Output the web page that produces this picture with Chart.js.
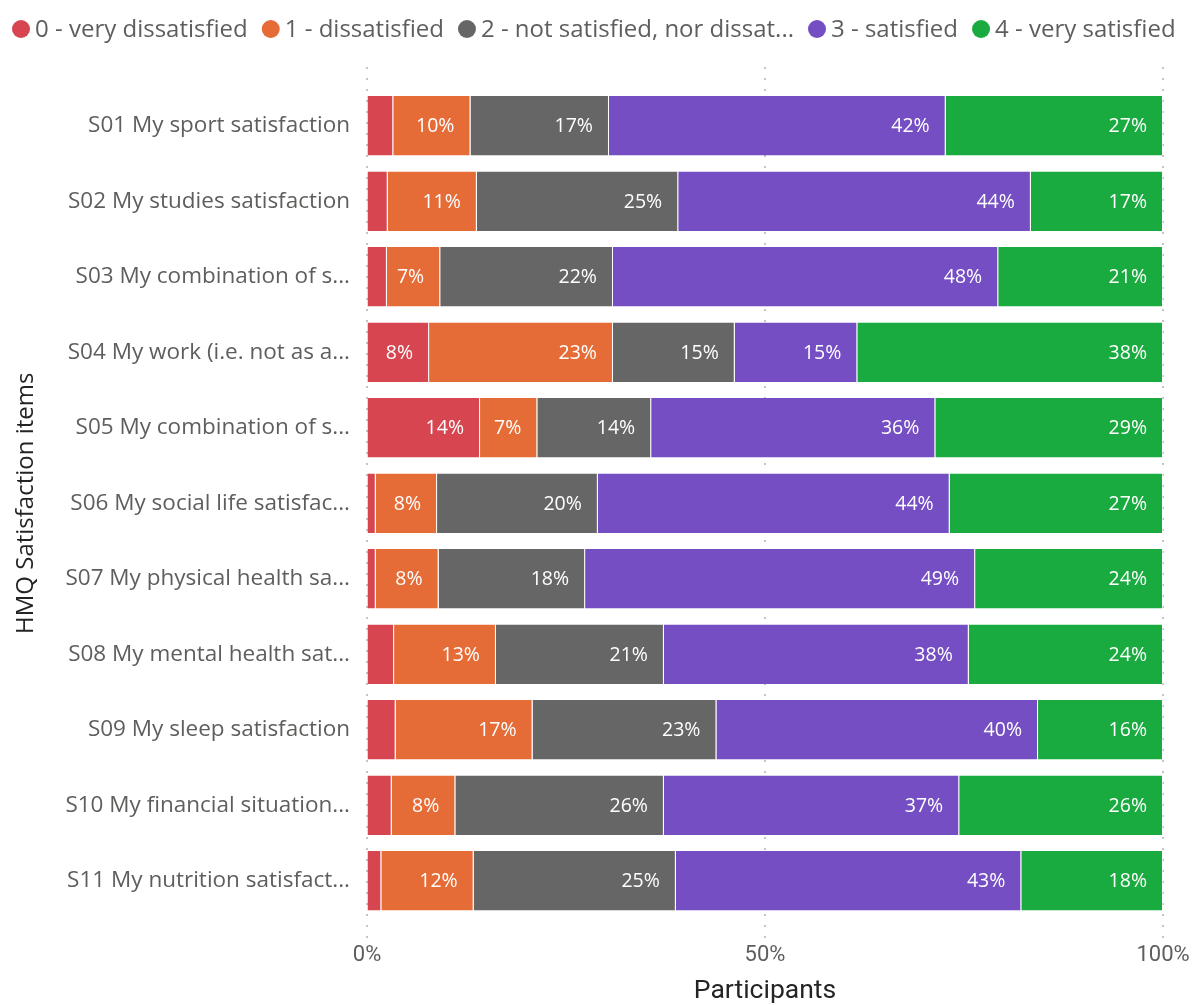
<!DOCTYPE html>
<html>
<head>
<meta charset="utf-8">
<script src="https://cdn.jsdelivr.net/npm/chart.js@4.4.1/dist/chart.umd.min.js"></script>
<style>
  html, body { margin: 0; padding: 0; background: #fff; }
  #wrap { width: 1202px; height: 1005px; }
</style>
</head>
<body>
<div id="wrap"><canvas id="myChart" width="1202" height="1005"></canvas></div>
<script>
var items = [
    "S01 My sport satisfaction",
    "S02 My studies satisfaction",
    "S03 My combination of s...",
    "S04 My work (i.e. not as a...",
    "S05 My combination of s...",
    "S06 My social life satisfac...",
    "S07 My physical health sa...",
    "S08 My mental health sat...",
    "S09 My sleep satisfaction",
    "S10 My financial situation...",
    "S11 My nutrition satisfact..."
];

var answers = [
    "0 - very dissatisfied",
    "1 - dissatisfied",
    "2 - not satisfied, nor dissat...",
    "3 - satisfied",
    "4 - very satisfied"
];

// share of participants per answer, % of each item
var veryDissatisfied = [3.3, 2.6, 2.5, 7.8, 14.2, 1.1, 1.1, 3.4, 3.6, 3.1, 1.8];
var dissatisfied     = [9.7, 11.2, 6.7, 23.1, 7.2, 7.7, 7.9, 12.8, 17.2, 8.0, 11.6];
var neutral          = [17.4, 25.3, 21.7, 15.3, 14.3, 20.2, 18.4, 21.1, 23.1, 26.2, 25.4];
var satisfied        = [42.3, 44.3, 48.4, 15.4, 35.7, 44.2, 49.0, 38.3, 40.4, 37.1, 43.4];
var verySatisfied    = [27.3, 16.6, 20.7, 38.4, 28.6, 26.8, 23.6, 24.4, 15.7, 25.6, 17.8];

var xTicks = [0, 50, 100];

var colors = ["#D64550", "#E66C37", "#666666", "#744EC2", "#1AAB40"];
var series = [veryDissatisfied, dissatisfied, neutral, satisfied, verySatisfied];

var datasets = [];
for (var i = 0; i < series.length; i++) {
    datasets.push({
        label: answers[i],
        data: series[i],
        backgroundColor: colors[i],
        borderColor: "rgba(255,255,255,0.55)",
        borderWidth: {right: 1},
        borderSkipped: false,
        barPercentage: 0.785,
        categoryPercentage: 1
    });
}

var textFont = "'Open Sans', sans-serif";

// legend row at the top: dot + text, packed from the left
var topLegend = {
    id: "topLegend",
    afterDraw: function (chart) {
        var ctx = chart.ctx;
        var x = 12;
        var y = 29;
        ctx.save();
        ctx.font = "24px " + textFont;
        ctx.textBaseline = "middle";
        ctx.textAlign = "left";
        chart.data.datasets.forEach(function (ds) {
            ctx.fillStyle = ds.backgroundColor;
            ctx.beginPath();
            ctx.arc(x + 9, y, 9, 0, Math.PI * 2);
            ctx.fill();
            ctx.fillStyle = "#605E5C";
            ctx.fillText(ds.label, x + 23, y + 1);
            x += 23 + ctx.measureText(ds.label).width + 14;
        });
        ctx.restore();
    }
};

// dotted vertical grid behind the bars, running a bit past the plot area
var dotGrid = {
    id: "dotGrid",
    beforeDatasetsDraw: function (chart) {
        var ctx = chart.ctx;
        var area = chart.chartArea;
        var xs = chart.scales.x;
        ctx.save();
        ctx.fillStyle = "#C4C4C4";
        xTicks.forEach(function (t) {
            var px = Math.round(xs.getPixelForValue(t));
            for (var y = area.top - 21; y <= area.bottom + 20; y += 11) {
                ctx.fillRect(px - 1, y, 2, 2);
            }
        });
        ctx.restore();
    }
};

// percentage labels, right aligned inside each segment
var barLabels = {
    id: "barLabels",
    afterDatasetsDraw: function (chart) {
        var ctx = chart.ctx;
        ctx.save();
        ctx.font = "19.5px " + textFont;
        ctx.fillStyle = "#ffffff";
        ctx.textAlign = "right";
        ctx.textBaseline = "middle";
        chart.data.datasets.forEach(function (ds, di) {
            var meta = chart.getDatasetMeta(di);
            meta.data.forEach(function (bar, j) {
                var v = ds.data[j];
                if (v < 5) return;
                ctx.fillText(Math.round(v) + "%", bar.x - 16, bar.y + 1);
            });
        });
        ctx.restore();
    }
};

var ctx = document.getElementById("myChart");
var myChart = new Chart(ctx, {
    type: "bar",
    data: {
        labels: items,
        datasets: datasets
    },
    plugins: [topLegend, dotGrid, barLabels],
    options: {
        indexAxis: "y",
        responsive: false,
        animation: false,
        layout: {
            padding: {top: 88, right: 39, bottom: 0, left: 0}
        },
        plugins: {
            legend: {display: false},
            tooltip: {enabled: false}
        },
        scales: {
            x: {
                stacked: true,
                min: 0,
                max: 100,
                afterBuildTicks: function (scale) {
                    scale.ticks = xTicks.map(function (v) { return {value: v}; });
                },
                ticks: {
                    color: "#605E5C",
                    font: {family: "Roboto", size: 22, lineHeight: 1},
                    padding: 4,
                    callback: function (v) { return v + "%"; }
                },
                grid: {
                    display: true,
                    drawOnChartArea: false,
                    tickLength: 22,
                    tickColor: "rgba(0,0,0,0)"
                },
                border: {display: false},
                title: {
                    display: true,
                    text: "Participants",
                    color: "#252423",
                    font: {family: "Roboto", size: 26.5, lineHeight: 1},
                    padding: {top: 8, bottom: 0}
                }
            },
            y: {
                stacked: true,
                afterFit: function (scale) { scale.width = 367; },
                ticks: {
                    color: "#605E5C",
                    font: {family: textFont, size: 22.5},
                    padding: 17,
                    autoSkip: false
                },
                grid: {display: false, drawTicks: false},
                border: {display: false},
                title: {
                    display: true,
                    text: "HMQ Satisfaction items",
                    color: "#252423",
                    font: {family: textFont, size: 24},
                    padding: {top: 12, bottom: 0}
                }
            }
        }
    }
});
</script>
</body>
</html>
